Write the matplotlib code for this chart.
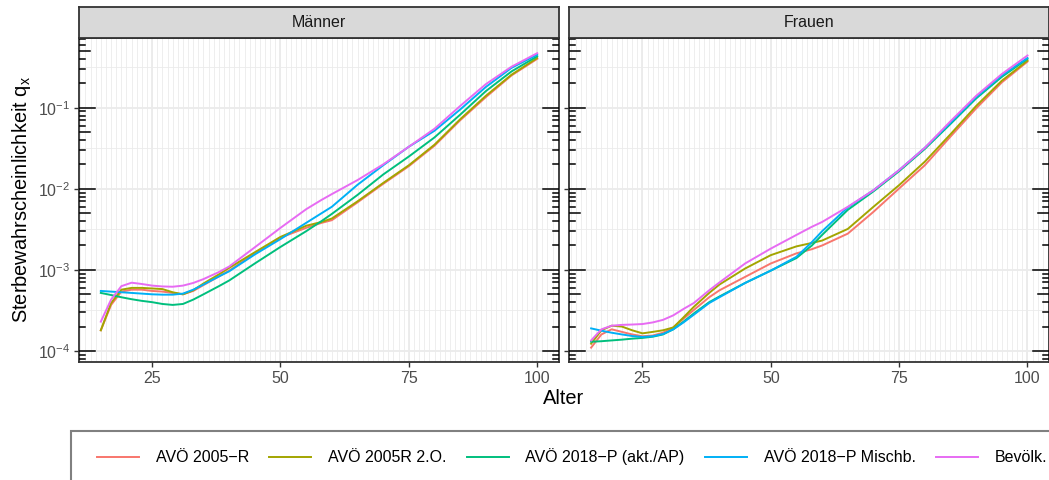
import numpy as np
import matplotlib
matplotlib.use("Agg")
import matplotlib.pyplot as plt
from matplotlib.patches import Rectangle
from matplotlib.lines import Line2D

plt.rcParams['font.family'] = ['Liberation Sans', 'DejaVu Sans']
plt.rcParams['mathtext.default'] = 'regular'

# data
alter = [15, 17, 19, 21, 23, 25, 27, 29, 31, 33, 35, 38, 40, 45, 50, 55, 58, 60, 65, 70, 75, 80, 85, 90, 95, 100]

tafeln = ['AVÖ 2005−R', 'AVÖ 2005R 2.O.', 'AVÖ 2018−P (akt./AP)', 'AVÖ 2018−P Mischb.', 'Bevölk.']
farben = ['#F8766D', '#A3A500', '#00BF7D', '#00B0F6', '#E76BF3']
panels = ['Männer', 'Frauen']

m_2005r = [1.8e-4, 3.7e-4, 5.4e-4, 5.7e-4, 5.7e-4, 5.5e-4, 5.4e-4, 5.2e-4, 5.0e-4, 5.5e-4, 6.5e-4, 8.3e-4, 9.8e-4,
           1.6e-3, 2.5e-3, 3.3e-3, 3.8e-3, 4.1e-3, 6.8e-3, 1.15e-2, 1.9e-2, 3.4e-2, 7.0e-2, 1.35e-1, 2.5e-1, 4.0e-1]
m_2005r2 = [1.8e-4, 3.9e-4, 5.7e-4, 6.0e-4, 6.0e-4, 5.9e-4, 5.8e-4, 5.3e-4, 5.0e-4, 5.6e-4, 6.8e-4, 8.8e-4, 1.06e-3,
            1.65e-3, 2.55e-3, 3.5e-3, 3.9e-3, 4.3e-3, 7.0e-3, 1.18e-2, 1.95e-2, 3.5e-2, 7.2e-2, 1.4e-1, 2.55e-1, 4.1e-1]
m_2018akt = [5.2e-4, 4.9e-4, 4.6e-4, 4.35e-4, 4.15e-4, 4.0e-4, 3.8e-4, 3.7e-4, 3.8e-4, 4.3e-4, 5.0e-4, 6.3e-4, 7.4e-4,
             1.2e-3, 1.92e-3, 3.0e-3, 4.0e-3, 4.9e-3, 8.4e-3, 1.5e-2, 2.5e-2, 4.3e-2, 8.2e-2, 1.6e-1, 2.8e-1, 4.3e-1]
m_2018misch = [5.5e-4, 5.4e-4, 5.3e-4, 5.2e-4, 5.1e-4, 5.0e-4, 4.95e-4, 4.95e-4, 5.1e-4, 5.7e-4, 6.6e-4, 8.3e-4, 9.6e-4,
               1.55e-3, 2.4e-3, 3.8e-3, 5.0e-3, 6.0e-3, 1.12e-2, 1.95e-2, 3.3e-2, 5.2e-2, 9.5e-2, 1.8e-1, 3.1e-1, 4.5e-1]
m_bev = [2.3e-4, 4.3e-4, 6.3e-4, 6.95e-4, 6.7e-4, 6.4e-4, 6.25e-4, 6.2e-4, 6.4e-4, 6.9e-4, 7.7e-4, 9.4e-4, 1.1e-3,
         1.9e-3, 3.3e-3, 5.6e-3, 7.3e-3, 8.6e-3, 1.28e-2, 2.0e-2, 3.3e-2, 5.5e-2, 1.05e-1, 1.95e-1, 3.2e-1, 4.7e-1]

f_2005r = [1.1e-4, 1.6e-4, 1.85e-4, 1.72e-4, 1.6e-4, 1.52e-4, 1.55e-4, 1.68e-4, 1.95e-4, 2.5e-4, 3.2e-4, 4.6e-4, 5.6e-4,
           8.2e-4, 1.2e-3, 1.6e-3, 1.8e-3, 2.0e-3, 2.8e-3, 5.2e-3, 1.01e-2, 1.95e-2, 4.4e-2, 9.8e-2, 2.05e-1, 3.7e-1]
f_2005r2 = [1.23e-4, 1.8e-4, 2.05e-4, 2.0e-4, 1.8e-4, 1.65e-4, 1.72e-4, 1.8e-4, 1.95e-4, 2.6e-4, 3.5e-4, 5.2e-4, 6.6e-4,
            1.04e-3, 1.52e-3, 1.95e-3, 2.15e-3, 2.3e-3, 3.2e-3, 6.0e-3, 1.11e-2, 2.16e-2, 4.7e-2, 1.05e-1, 2.15e-1, 3.8e-1]
f_2018akt = [1.3e-4, 1.32e-4, 1.35e-4, 1.38e-4, 1.42e-4, 1.45e-4, 1.5e-4, 1.6e-4, 1.85e-4, 2.3e-4, 2.9e-4, 4.0e-4, 4.7e-4,
             6.9e-4, 9.8e-4, 1.4e-3, 2.0e-3, 2.7e-3, 5.5e-3, 9.3e-3, 1.65e-2, 3.1e-2, 6.3e-2, 1.3e-1, 2.4e-1, 4.0e-1]
f_2018misch = [1.9e-4, 1.78e-4, 1.68e-4, 1.6e-4, 1.53e-4, 1.49e-4, 1.52e-4, 1.62e-4, 1.85e-4, 2.25e-4, 2.8e-4, 3.9e-4, 4.6e-4,
               6.9e-4, 9.8e-4, 1.45e-3, 2.2e-3, 3.0e-3, 5.9e-3, 9.6e-3, 1.7e-2, 3.2e-2, 6.5e-2, 1.35e-1, 2.5e-1, 4.1e-1]
f_bev = [1.35e-4, 1.85e-4, 2.05e-4, 2.1e-4, 2.12e-4, 2.15e-4, 2.25e-4, 2.42e-4, 2.75e-4, 3.3e-4, 3.9e-4, 5.6e-4, 7.0e-4,
         1.2e-3, 1.83e-3, 2.7e-3, 3.4e-3, 3.9e-3, 6.0e-3, 9.6e-3, 1.7e-2, 3.2e-2, 6.8e-2, 1.4e-1, 2.6e-1, 4.4e-1]

werte = {
    'Männer': [m_2005r, m_2005r2, m_2018akt, m_2018misch, m_bev],
    'Frauen': [f_2005r, f_2005r2, f_2018akt, f_2018misch, f_bev],
}

W, H = 1049, 480
fig = plt.figure(figsize=(W / 100, H / 100), dpi=100)

def fx(px):
    return px / W

def fy(py):
    return 1 - py / H

panel_left = [79, 569.3]
panel_w = 480
top, bottom, strip_top = 37.7, 361.7, 6.7
dark = '#333333'

for i, name in enumerate(panels):
    ax = fig.add_axes([fx(panel_left[i]), fy(bottom), panel_w / W, (bottom - top) / H])
    ax.set_yscale('log')
    ax.set_xlim(10.75, 104.25)
    ax.set_ylim(10 ** -4.132, 10 ** -0.137)

    # grid
    for a in range(11, 105):
        ax.axvline(a, color='#ebebeb', lw=0.6, zorder=0)
    for a in [25, 50, 75, 100]:
        ax.axvline(a, color='#ebebeb', lw=1.3, zorder=0)
    for k in range(-5, 1):
        ax.axhline(10.0 ** k, color='#ebebeb', lw=1.3, zorder=0)
        ax.axhline(10.0 ** (k + 0.5), color='#ebebeb', lw=0.6, zorder=0)

    for j, serie in enumerate(werte[name]):
        ax.plot(alter, serie, color=farben[j], lw=1.4, zorder=3)

    # log ticks inside, left and right
    ytr = ax.get_yaxis_transform()
    for k in range(-5, 1):
        for m in range(1, 10):
            y = m * 10.0 ** k
            if m == 1:
                L = 16
            elif m == 5:
                L = 11
            else:
                L = 6
            frac = L / panel_w
            ax.plot([0, frac], [y, y], transform=ytr, color='black', lw=1.1, zorder=4)
            ax.plot([1 - frac, 1], [y, y], transform=ytr, color='black', lw=1.1, zorder=4)

    ax.set_xticks([25, 50, 75, 100])
    ax.set_yticks([1e-4, 1e-3, 1e-2, 1e-1])
    ax.yaxis.set_minor_locator(matplotlib.ticker.NullLocator())
    ax.tick_params(axis='both', which='major', direction='out', length=3.5, width=1.0,
                   color=dark, labelcolor='#4d4d4d', labelsize=11.5, pad=3)
    if i == 1:
        ax.tick_params(axis='y', labelleft=False, left=True)
    for s in ax.spines.values():
        s.set_color(dark)
        s.set_linewidth(1.3)
    ax.set_facecolor('white')

    # facet strip
    sax = fig.add_axes([fx(panel_left[i]), fy(top), panel_w / W, (top - strip_top) / H])
    sax.set_facecolor('#d9d9d9')
    sax.set_xticks([])
    sax.set_yticks([])
    for s in sax.spines.values():
        s.set_color(dark)
        s.set_linewidth(1.3)
    sax.text(0.5, 0.5, name, ha='center', va='center', fontsize=11.5, color='#1a1a1a',
             transform=sax.transAxes)

fig.text(fx(564), fy(399), 'Alter', ha='center', va='center', fontsize=14.4)
fig.text(fx(22), fy(200), 'Sterbewahrscheinlichkeit q$_\\mathregular{x}$', ha='center', va='center',
         rotation=90, fontsize=14.4)

# legend
fig.patches.append(Rectangle((fx(71), fy(490)), fx(1000), 59 / H, transform=fig.transFigure,
                             facecolor='white', edgecolor='#808080', lw=1.5))
handles = [Line2D([], [], color=c, lw=1.4) for c in farben]
fig.legend(handles, tafeln, loc='center left', bbox_to_anchor=(fx(97), fy(457)), ncol=5,
           frameon=False, fontsize=11.5, handlelength=2.63, handletextpad=1.06,
           columnspacing=1.25, borderpad=0, borderaxespad=0)

fig.savefig('out.png', dpi=100)
